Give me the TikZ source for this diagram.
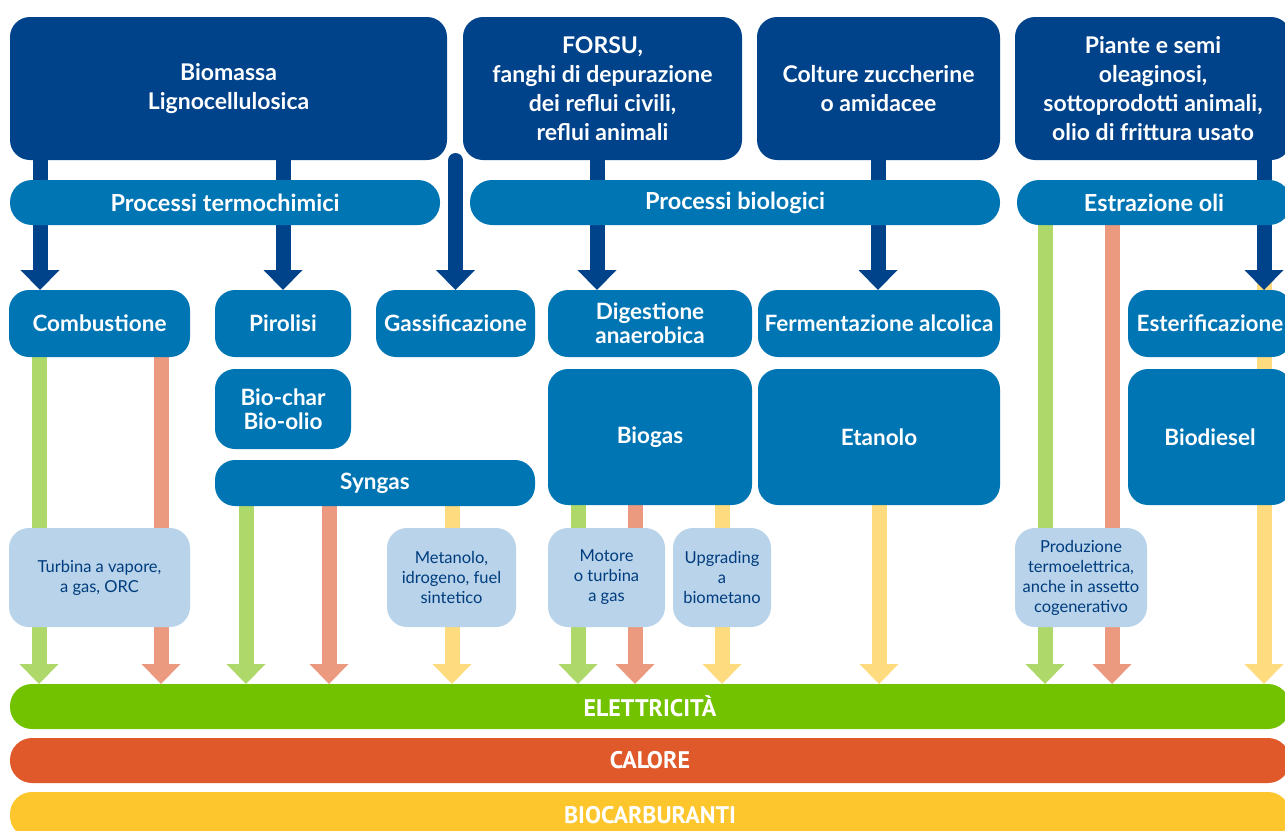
\documentclass[tikz,border=0pt]{standalone}
\usepackage{fontspec}
\setmainfont{Lato}
\newfontfamily\barfont{PT Sans}
\usetikzlibrary{arrows.meta}
\pgfdeclarelayer{bg}
\pgfsetlayers{bg,main}
\definecolor{dblue}{HTML}{00438A}
\definecolor{mblue}{HTML}{0075B4}
\definecolor{lblue}{HTML}{B8D3EA}
\definecolor{ltext}{HTML}{003C7D}
\definecolor{agreen}{HTML}{AED96A}
\definecolor{asalmon}{HTML}{EB9A80}
\definecolor{ayellow}{HTML}{FEDB7E}
\definecolor{bgreen}{HTML}{72C200}
\definecolor{borange}{HTML}{E0592A}
\definecolor{byellow}{HTML}{FDC62D}
\tikzset{
  basebox/.style={anchor=north west, inner sep=0pt, outer sep=0pt, align=center, rounded corners=20pt},
  topbox/.style={basebox, fill=dblue, text=white, font=\bfseries\fontsize{23}{29}\selectfont},
  procbar/.style={basebox, fill=mblue, text=white, rounded corners=22pt, font=\bfseries\fontsize{23.5}{29}\selectfont},
  mbox/.style={basebox, fill=mblue, text=white, font=\bfseries\fontsize{22.5}{24}\selectfont},
  lbox/.style={basebox, fill=lblue, text=ltext, font=\fontsize{16.5}{20}\selectfont},
  outbar/.style={basebox, rounded corners=22pt, text=white, font=\barfont\bfseries\fontsize{24}{28}\selectfont},
  flow/.style={line width=15pt, -{Triangle[width=39pt,length=20pt,line width=0pt]}},
  darr/.style={flow, draw=dblue},
  garr/.style={flow, draw=agreen},
  sarr/.style={flow, draw=asalmon},
  yarr/.style={flow, draw=ayellow},
}
\begin{document}
\begin{tikzpicture}[x=1pt, y=-1pt]
\useasboundingbox (0,0) rectangle (1285,830);
% sources
\node[topbox, minimum width=437pt, minimum height=143pt] (bio) at (10,17) {Biomassa\\Lignocellulosica};
\node[topbox, minimum width=279pt, minimum height=143pt] (forsu) at (463,17) {FORSU,\\fanghi di depurazione\\dei reflui civili,\\reflui animali};
\node[topbox, minimum width=243pt, minimum height=143pt] (colt) at (757,17) {Colture zuccherine\\o amidacee};
\node[topbox, minimum width=276pt, minimum height=143pt] (piante) at (1015,17) {Piante e semi\\oleaginosi,\\sottoprodotti animali,\\olio di frittura usato};
% process bars
\node[procbar, minimum width=430pt, minimum height=45pt] (term) at (10,180) {Processi termochimici};
\node[procbar, minimum width=530pt, minimum height=45pt] (biol) at (470,180) {Processi biologici};
\node[procbar, minimum width=274pt, minimum height=45pt] (estr) at (1017,180) {Estrazione oli};
% processes
\node[mbox, minimum width=181pt, minimum height=67pt] (comb) at (9,290) {Combustione};
\node[mbox, minimum width=136pt, minimum height=67pt] (piro) at (215,290) {Pirolisi};
\node[mbox, minimum width=159pt, minimum height=67pt] (gass) at (376,290) {Gassificazione};
\node[mbox, minimum width=204pt, minimum height=67pt] (dig) at (548,290) {Digestione\\anaerobica};
\node[mbox, minimum width=242pt, minimum height=67pt] (ferm) at (758,290) {Fermentazione alcolica};
\node[mbox, minimum width=164pt, minimum height=67pt] (ester) at (1128,290) {Esterificazione};
% products
\node[mbox, minimum width=136pt, minimum height=80pt] (biochar) at (215,369) {Bio-char\\Bio-olio};
\node[mbox, minimum width=320pt, minimum height=46pt] (syngas) at (215,460) {Syngas};
\node[mbox, minimum width=204pt, minimum height=136pt] (biogas) at (548,369) {Biogas};
\node[mbox, minimum width=242pt, minimum height=136pt] (etanolo) at (758,369) {Etanolo};
\node[mbox, minimum width=164pt, minimum height=136pt] (biodiesel) at (1128,369) {Biodiesel};
% technologies
\node[lbox, minimum width=181pt, minimum height=99pt] (turb) at (9,528) {Turbina a vapore,\\a gas, ORC};
\node[lbox, minimum width=129pt, minimum height=99pt] (meta) at (387,528) {Metanolo,\\idrogeno, fuel\\sintetico};
\node[lbox, minimum width=117pt, minimum height=99pt] (moto) at (548,528) {Motore\\o turbina\\a gas};
\node[lbox, minimum width=98pt, minimum height=99pt] (upgr) at (673,528) {Upgrading\\a\\biometano};
\node[lbox, minimum width=132pt, minimum height=99pt] (prod) at (1015,528) {Produzione\\termoelettrica,\\anche in assetto\\cogenerativo};
% outputs
\node[outbar, fill=bgreen, minimum width=1280pt, minimum height=45pt] (elet) at (10,684) {ELETTRICITÀ};
\node[outbar, fill=borange, minimum width=1280pt, minimum height=45pt] (calo) at (10,738) {CALORE};
\node[outbar, fill=byellow, minimum width=1280pt, minimum height=46pt] (bioc) at (10,792) {BIOCARBURANTI};
% column coordinates
\coordinate (xa) at (40,0);
\coordinate (xb) at (283,0);
\coordinate (gtop) at (455.5,160.5);
\coordinate (xd) at (597,0);
\coordinate (xe) at (878,0);
\coordinate (xf) at (1264,0);
\coordinate (ytop) at (1264,282);
\coordinate (g1) at (39,0);
\coordinate (s1) at (161,0);
\coordinate (g2) at (246,0);
\coordinate (s2) at (329,0);
\coordinate (y2) at (452,0);
\coordinate (g3) at (578,0);
\coordinate (s3) at (635,0);
\coordinate (y3) at (722,0);
\coordinate (y4) at (879,0);
\coordinate (g5) at (1045,0);
\coordinate (s5) at (1112,0);
\begin{pgfonlayer}{bg}
% coloured flows
\draw[garr] (comb.south -| g1) -- (elet.north -| g1);
\draw[sarr] (comb.south -| s1) -- (elet.north -| s1);
\draw[garr] (syngas.south -| g2) -- (elet.north -| g2);
\draw[sarr] (syngas.south -| s2) -- (elet.north -| s2);
\draw[yarr] (syngas.south -| y2) -- (elet.north -| y2);
\draw[garr] (biogas.south -| g3) -- (elet.north -| g3);
\draw[sarr] (biogas.south -| s3) -- (elet.north -| s3);
\draw[yarr] (biogas.south -| y3) -- (elet.north -| y3);
\draw[yarr] (etanolo.south -| y4) -- (elet.north -| y4);
\draw[garr] (estr.south -| g5) -- (elet.north -| g5);
\draw[sarr] (estr.south -| s5) -- (elet.north -| s5);
\draw[yarr] (ytop) -- (elet.north -| ytop);
% feedstock flows
\draw[darr] (bio.south -| xa) -- (comb.north -| xa);
\draw[darr] (bio.south -| xb) -- (piro.north -| xb);
\draw[darr, line cap=round] (gtop) -- (gass.north);
\draw[darr] (forsu.south -| xd) -- (dig.north -| xd);
\draw[darr] (colt.south -| xe) -- (ferm.north -| xe);
\draw[darr] (piante.south -| xf) -- (ester.north -| xf);
\end{pgfonlayer}
\end{tikzpicture}
\end{document}
